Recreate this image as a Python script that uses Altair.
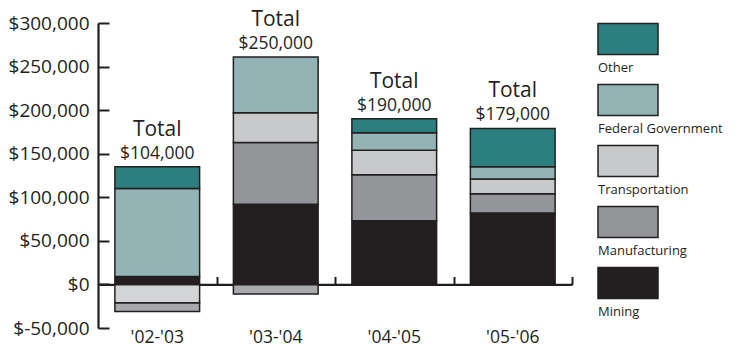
import altair as alt
import pandas as pd

periods = ["'02-'03", "'03-'04", "'04-'05", "'05-'06"]
categories = ["Mining", "Manufacturing", "Transportation", "Federal Government", "Other"]
legend_order = ["Other", "Federal Government", "Transportation", "Manufacturing", "Mining"]
colors = ["#231f20", "#939598", "#c8c9cb", "#93b3b4", "#2b7f7e"]

mining = [9000, 92000, 73000, 82000]
manufacturing = [0, 71000, 53000, 22000]
manufacturing_negative = [-10000, -11000, 0, 0]
transportation = [-21000, 34000, 28000, 17000]
federal_government = [101000, 64000, 20000, 14000]
other = [25000, 0, 16000, 44000]
totals = [104000, 250000, 190000, 179000]

y_ticks = [-50000, 0, 50000, 100000, 150000, 200000, 250000, 300000]

DARK = "#231f20"
FONT = "Open Sans"
W, H = 474, 305
Y_MIN, Y_MAX = -50000, 300000
y0 = H * Y_MAX / (Y_MAX - Y_MIN)
PAD_IN = 0.285
STEP = W / len(periods)

series = [
    ("Mining", mining),
    ("Manufacturing", manufacturing),
    ("Manufacturing", manufacturing_negative),
    ("Transportation", transportation),
    ("Federal Government", federal_government),
    ("Other", other),
]
rows = []
for cat, vals in series:
    for p, v in zip(periods, vals):
        if v != 0:
            rows.append({"period": p, "category": cat, "value": v})
df = pd.DataFrame(rows)
rank = {c: i + 1 for i, c in enumerate(categories)}
df["ord"] = [rank[c] if v > 0 else 10 - rank[c] for c, v in zip(df["category"], df["value"])]

tops = df[df["value"] > 0].groupby("period")["value"].sum()
tot_df = pd.DataFrame({
    "period": periods,
    "top": [tops[p] for p in periods],
    "total": totals,
})

x_scale = alt.Scale(domain=periods, paddingInner=PAD_IN, paddingOuter=PAD_IN / 2)
y_scale = alt.Scale(domain=[Y_MIN, Y_MAX], nice=False, zero=False)
color_scale = alt.Scale(domain=categories, range=colors)

bars = alt.Chart(df).mark_bar(stroke=DARK, strokeWidth=1.5).encode(
    x=alt.X("period:N", sort=periods, scale=x_scale,
            axis=alt.Axis(orient="top", offset=-y0, labels=False, title=None,
                          domainColor=DARK, domainWidth=2.2, tickColor=DARK,
                          tickWidth=2, tickSize=8, bandPosition=1,
                          tickOffset=STEP * PAD_IN / 2, grid=False)),
    y=alt.Y("value:Q", stack="zero", scale=y_scale,
            axis=alt.Axis(orient="right", offset=-W, labels=False, title=None,
                          values=y_ticks, domainColor=DARK, domainWidth=2.2,
                          tickColor=DARK, tickWidth=2, tickSize=11, grid=False)),
    color=alt.Color("category:N", scale=color_scale, legend=None),
    order=alt.Order("ord:Q"),
    fillOpacity=alt.condition("datum.value < 0", alt.value(0.8), alt.value(1)),
)

total_word = alt.Chart(tot_df).mark_text(
    text="Total", font=FONT, fontSize=21, color=DARK, baseline="alphabetic", dy=-31
).encode(
    x=alt.X("period:N", sort=periods, scale=x_scale,
            axis=alt.Axis(orient="bottom", labels=True, domain=False, ticks=False,
                          title=None, labelFont=FONT, labelFontSize=17.5,
                          labelColor=DARK, labelPadding=0, labelAngle=0,
                          labelBaseline="top")),
    y=alt.Y("top:Q", scale=y_scale,
            axis=alt.Axis(orient="left", values=y_ticks, domain=False, ticks=False,
                          title=None, labelFont=FONT, labelFontSize=19,
                          labelColor=DARK, labelPadding=9, grid=False,
                          labelExpr="(datum.value < 0 ? '$-' : '$') + format(abs(datum.value), ',')")),
)

total_value = alt.Chart(tot_df).mark_text(
    font=FONT, fontSize=17.5, color=DARK, baseline="alphabetic", dy=-8
).encode(
    x=alt.X("period:N", sort=periods, scale=x_scale, axis=None),
    y=alt.Y("top:Q", scale=y_scale, axis=None),
    text=alt.Text("total:Q", format="$,"),
)

main = alt.layer(bars, total_word, total_value).resolve_axis(
    x="independent", y="independent"
).properties(width=W, height=H)

leg_df = pd.DataFrame({"category": legend_order})
leg_y = alt.Y("category:N", sort=legend_order, axis=None,
              scale=alt.Scale(domain=legend_order, paddingInner=0, paddingOuter=0))
swatch = alt.Chart(leg_df).mark_bar(stroke=DARK, strokeWidth=1.5, size=31, yOffset=-14.5).encode(
    y=leg_y,
    x=alt.value(0), x2=alt.value(60),
    color=alt.Color("category:N", scale=color_scale, legend=None),
)
swatch_label = alt.Chart(leg_df).mark_text(
    font=FONT, fontSize=13, color=DARK, align="left", baseline="alphabetic", dy=18.2
).encode(
    y=leg_y,
    x=alt.value(0),
    text="category:N",
)
legend = alt.layer(swatch, swatch_label).properties(width=130, height=H)

chart = alt.hconcat(main, legend, spacing=24).properties(
    padding={"left": 8, "top": 8, "right": 0, "bottom": 0}
).configure_view(stroke=None)

chart.save("out.html", embed_options={"renderer": "svg", "actions": False})
